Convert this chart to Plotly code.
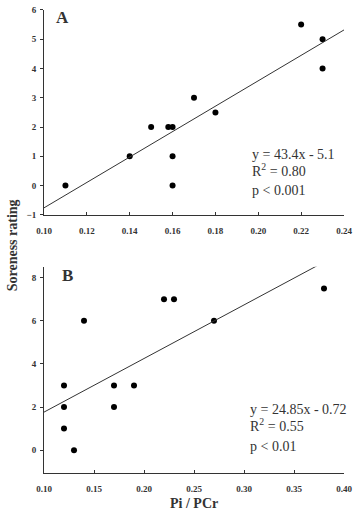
import plotly.graph_objects as go

# Panel A data
a_x = [0.11, 0.14, 0.15, 0.158, 0.16, 0.16, 0.16, 0.17, 0.18, 0.22, 0.23, 0.23]
a_y = [0, 1, 2, 2, 2, 1, 0, 3, 2.5, 5.5, 5, 4]
a_slope, a_int = 43.4, -5.1
a_fit_x = [0.10, 0.24]

# Panel B data
b_x = [0.12, 0.12, 0.12, 0.13, 0.14, 0.17, 0.17, 0.19, 0.22, 0.23, 0.27, 0.38]
b_y = [3, 2, 1, 0, 6, 3, 2, 3, 7, 7, 6, 7.5]
b_slope, b_int = 24.85, -0.72
b_fit_x = [0.10, 0.38]

a_xticks = [0.10, 0.12, 0.14, 0.16, 0.18, 0.20, 0.22, 0.24]
a_yticks = [-1, 0, 1, 2, 3, 4, 5, 6]
b_xticks = [0.10, 0.15, 0.20, 0.25, 0.30, 0.35, 0.40]
b_yticks = [0, 2, 4, 6, 8]

W, H = 353, 520
L, R = 44, 9
SERIF = "Liberation Serif"
INK = "#333"

fig = go.Figure()
fig.add_trace(go.Scatter(x=a_x, y=a_y, mode="markers",
                         marker=dict(color="black", size=6), xaxis="x", yaxis="y"))
fig.add_trace(go.Scatter(x=a_fit_x, y=[a_slope * v + a_int for v in a_fit_x], mode="lines",
                         line=dict(color=INK, width=1), xaxis="x", yaxis="y"))
fig.add_trace(go.Scatter(x=b_x, y=b_y, mode="markers",
                         marker=dict(color="black", size=6), xaxis="x2", yaxis="y2"))
fig.add_trace(go.Scatter(x=b_fit_x, y=[b_slope * v + b_int for v in b_fit_x], mode="lines",
                         line=dict(color=INK, width=1), xaxis="x2", yaxis="y2"))

base = dict(showgrid=False, zeroline=False, showline=True, linecolor=INK, linewidth=1,
            ticklen=3, tickcolor=INK,
            tickfont=dict(family=SERIF, size=9, color=INK, weight="bold"))
xcommon = dict(base, ticks="inside", ticklabelstandoff=7)
ycommon = dict(base, ticks="outside", ticklabelstandoff=2)

fig.update_layout(
    width=W, height=H,
    margin=dict(l=L, r=R, t=0, b=0),
    paper_bgcolor="white", plot_bgcolor="white",
    showlegend=False,
    xaxis=dict(domain=[0, 1], range=[0.10, 0.24], tickvals=a_xticks,
               ticktext=[f"{v:.2f}" for v in a_xticks], anchor="y", **xcommon),
    yaxis=dict(domain=[1 - 214 / H, 1 - 5 / H], range=[-1, 6], tickvals=a_yticks,
               anchor="x", **ycommon),
    xaxis2=dict(domain=[0, 1], range=[0.10, 0.40], tickvals=b_xticks,
                ticktext=[f"{v:.2f}" for v in b_xticks], anchor="y2", **xcommon),
    yaxis2=dict(domain=[1 - 477 / H, 1 - 267 / H], range=[-1.05, 8.5], tickvals=b_yticks,
                anchor="x2", **ycommon),
)


def px_x(p):
    return (p - L) / (W - L - R)


def px_y(p):
    return 1 - p / H


ann_font = dict(family=SERIF, size=14, color=INK)
annotations = [
    dict(text="<b>A</b>", x=px_x(62), y=px_y(13), xanchor="center", yanchor="middle",
         font=dict(family=SERIF, size=17, color=INK)),
    dict(text="<b>B</b>", x=px_x(67), y=px_y(276), xanchor="center", yanchor="middle",
         font=dict(family=SERIF, size=17, color=INK)),
    dict(text="y = 43.4x - 5.1", x=px_x(250), y=px_y(152), xanchor="left", yanchor="middle", font=ann_font),
    dict(text="R<sup>2</sup> = 0.80", x=px_x(250), y=px_y(168), xanchor="left", yanchor="middle", font=ann_font),
    dict(text="p < 0.001", x=px_x(250), y=px_y(189), xanchor="left", yanchor="middle", font=ann_font),
    dict(text="y = 24.85x - 0.72", x=px_x(248), y=px_y(412), xanchor="left", yanchor="middle", font=ann_font),
    dict(text="R<sup>2</sup> = 0.55", x=px_x(248), y=px_y(428), xanchor="left", yanchor="middle", font=ann_font),
    dict(text="p < 0.01", x=px_x(248), y=px_y(450), xanchor="left", yanchor="middle", font=ann_font),
    dict(text="<b>Soreness rating</b>", x=px_x(12), y=px_y(245), xanchor="center", yanchor="middle",
         textangle=-90, font=dict(family=SERIF, size=14, color=INK)),
    dict(text="<b>Pi / PCr</b>", x=px_x(194), y=px_y(508), xanchor="center", yanchor="middle",
         font=dict(family=SERIF, size=14, color=INK)),
]
for a in annotations:
    a.update(xref="paper", yref="paper", showarrow=False)
fig.update_layout(annotations=annotations)

fig.write_html("out.html")
